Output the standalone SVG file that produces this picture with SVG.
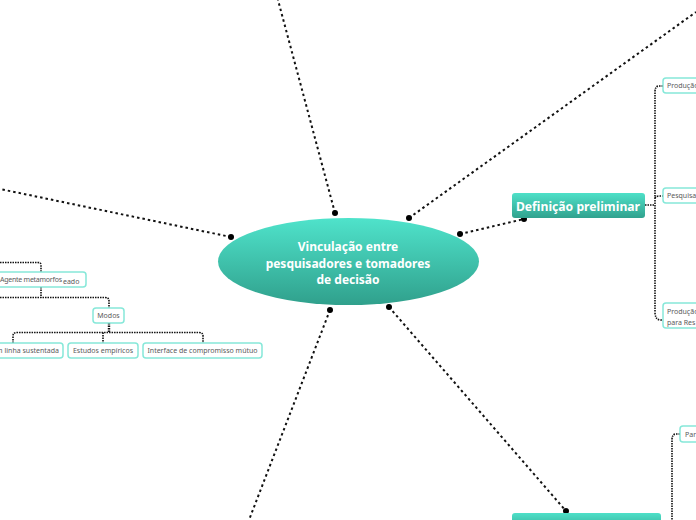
<svg xmlns="http://www.w3.org/2000/svg" width="696" height="520" viewBox="0 0 696 520">
<defs>
<linearGradient id="gMain" x1="0" y1="0" x2="0" y2="1">
<stop offset="0" stop-color="#4fe3cb"/>
<stop offset="1" stop-color="#30a08c"/>
</linearGradient>
<linearGradient id="gBox" x1="0" y1="0" x2="0" y2="1">
<stop offset="0" stop-color="#4ee0c8"/>
<stop offset="1" stop-color="#31a28e"/>
</linearGradient>
</defs>
<style>
.link{fill:none;stroke:#111;stroke-width:2;stroke-dasharray:2.5 3}
.br{fill:none;stroke:#111;stroke-width:1.6;stroke-dasharray:1.5 1}
.dot{fill:#000}
.sub{fill:#fff;stroke:#86e8d9;stroke-width:1.5}
.st{font-family:"Noto Sans","Open Sans",sans-serif;font-size:7px;fill:#5a5a5a}
.wt{font-family:"Noto Sans","Open Sans",sans-serif;font-weight:bold;fill:#fff}
</style>
<g id="connectors">
<line class="link" x1="335" y1="213" x2="278" y2="0"/>
<line class="link" x1="409" y1="218" x2="696" y2="12"/>
<line class="link" x1="460" y1="234" x2="524" y2="219"/>
<line class="link" x1="231" y1="237" x2="0" y2="189"/>
<line class="link" x1="330" y1="310" x2="249" y2="520"/>
<line class="link" x1="389" y1="307" x2="566" y2="511"/>
<circle class="dot" cx="335" cy="213" r="3"/>
<circle class="dot" cx="409" cy="218" r="3"/>
<circle class="dot" cx="460" cy="234" r="3"/>
<circle class="dot" cx="524" cy="219" r="3"/>
<circle class="dot" cx="231" cy="237" r="3"/>
<circle class="dot" cx="330" cy="310" r="3"/>
<circle class="dot" cx="389" cy="307" r="3"/>
<circle class="dot" cx="566" cy="511" r="3"/>
<path class="br" d="M645 205 H654"/>
<path class="br" d="M663 86 H659 Q655 86 655 92 V312 Q655 320 661 320 H663"/>
<path class="br" d="M655 198 Q656 196 659 196 H663"/>
<path class="br" d="M680 434 H676 Q672 434 672 440 V520"/>
<path class="br" d="M0 262.5 H38 Q41 262.5 41 265 V272"/>
<path class="br" d="M41 287 V297.5"/>
<path class="br" d="M0 297.5 H105 Q109 297.5 109 301 V308"/>
<path class="br" d="M109 323 V332.5" style="stroke-width:2.4"/>
<path class="br" d="M13 343 V336 Q13 332.5 17 332.5 H199 Q203 332.5 203 336 V343"/>
<path class="br" d="M103 332.5 V343"/>
</g>
<g id="central">
<ellipse cx="348.5" cy="261.5" rx="130.5" ry="43.5" fill="url(#gMain)"/>
<text class="wt" font-size="12" text-anchor="middle"><tspan x="348" y="251">Vinculação entre</tspan><tspan x="348" y="268">pesquisadores e tomadores</tspan><tspan x="348" y="284">de decisão</tspan></text>
</g>
<g id="definicao">
<rect x="512" y="193" width="133" height="25" rx="3" fill="url(#gBox)"/>
<text class="wt" font-size="12.2" x="578" y="210.5" text-anchor="middle">Definição preliminar</text>
</g>
<g id="producao1">
<rect class="sub" x="663" y="78" width="60" height="15" rx="3"/>
<text class="st" x="667" y="88">Produção</text>
</g>
<g id="pesquisa">
<rect class="sub" x="663" y="188" width="60" height="15" rx="3"/>
<text class="st" x="667" y="198">Pesquisa</text>
</g>
<g id="producao2">
<rect class="sub" x="663" y="303" width="60" height="25" rx="3"/>
<text class="st"><tspan x="667" y="314">Produção</tspan><tspan x="667" y="325">para Res</tspan></text>
</g>
<g id="par">
<rect class="sub" x="680" y="426" width="40" height="16" rx="3"/>
<text class="st" x="685" y="437">Par</text>
</g>
<g id="bottom">
<rect x="512" y="513" width="149" height="20" rx="3" fill="url(#gBox)"/>
</g>
<g id="agente">
<rect class="sub" x="-20" y="272" width="106" height="15" rx="3"/>
<text class="st" x="0" y="282" textLength="62">Agente metamorfos</text>
<text class="st" x="63" y="284">eado</text>
</g>
<g id="modos">
<rect class="sub" x="93" y="308" width="31" height="15" rx="3"/>
<text class="st" x="108.5" y="318" text-anchor="middle">Modos</text>
</g>
<g id="linha">
<rect class="sub" x="-30" y="343" width="93" height="15" rx="3"/>
<text class="st" x="59" y="353" text-anchor="end">em linha sustentada</text>
</g>
<g id="estudos">
<rect class="sub" x="68" y="343" width="70" height="15" rx="3"/>
<text class="st" x="103" y="353" text-anchor="middle">Estudos empíricos</text>
</g>
<g id="interface">
<rect class="sub" x="143" y="343" width="119" height="15" rx="3"/>
<text class="st" x="202.5" y="353" text-anchor="middle">Interface de compromisso mútuo</text>
</g>
</svg>
